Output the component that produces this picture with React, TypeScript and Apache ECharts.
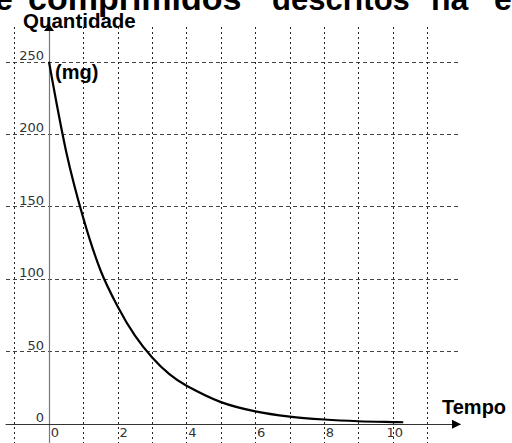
import React, { useEffect, useRef } from "react";
import * as echarts from "echarts";

// Data
const tempo = [0, 0.5, 1, 1.5, 2, 2.5, 3, 3.5, 4, 5, 6, 7, 8, 9, 10, 10.3];
const quantidade = [250, 188, 142, 106, 81, 61, 46, 34.5, 26.5, 15.2, 8.8, 5.2, 3.2, 2.0, 1.4, 1.3];

const xGridValues = [-1, 1, 2, 3, 4, 5, 6, 7, 8, 9, 10, 11];
const xLabelValues = [0, 2, 4, 6, 8, 10];
const yGridValues = [50, 100, 150, 200, 250];
const yLabelValues = [0, 50, 100, 150, 200, 250];

const X_MIN = -1.25;
const X_MAX = 11.95;
const Y_MIN = -13;
const Y_MAX = 274;

const titleWords = [
  { text: "e", x: -5 },
  { text: "comprimidos", x: 28, size: 34 },
  { text: "descritos", x: 272, size: 31 },
  { text: "na", x: 431, size: 32 },
  { text: "e", x: 494, size: 32 },
];

const boldFont = "Liberation Sans, Arial, Helvetica, sans-serif";
const labelFont = "DejaVu Sans, Verdana, sans-serif";

const W = 512;
const H = 443;
const GRID = { left: 6, right: 52, top: 27, bottom: 0 };

export default function App() {
  const ref = useRef<HTMLDivElement>(null);

  useEffect(() => {
    if (!ref.current) return;
    const chart = echarts.init(ref.current, null, { renderer: "svg" });
    const gridW = W - GRID.left - GRID.right;
    const gridH = H - GRID.top - GRID.bottom;
    // move axes (line + labels) onto the zero lines
    const yOffset = -((0 - X_MIN) / (X_MAX - X_MIN)) * gridW;
    const xOffset = -((0 - Y_MIN) / (Y_MAX - Y_MIN)) * gridH;

    const option: any = {
      animation: false,
      backgroundColor: "#ffffff",
      grid: { ...GRID, containLabel: false, outerBoundsMode: "none" },
      xAxis: {
        type: "value",
        min: X_MIN,
        max: X_MAX,
        position: "bottom",
        offset: xOffset,
        axisLine: { show: true, onZero: false, lineStyle: { color: "#333", width: 1 } },
        axisTick: { show: false, customValues: xGridValues },
        splitLine: { show: true, lineStyle: { color: "#222", width: 1, type: [2, 3] } },
        axisLabel: {
          customValues: xLabelValues,
          fontFamily: labelFont,
          fontSize: 13,
          color: "#333",
          margin: 2,
          align: "right",
          padding: [0, -10, 0, 0],
        },
      },
      yAxis: {
        type: "value",
        min: Y_MIN,
        max: Y_MAX,
        position: "left",
        offset: yOffset,
        axisLine: { show: true, onZero: false, lineStyle: { color: "#777", width: 1.2 } },
        axisTick: { show: false, customValues: yGridValues },
        splitLine: { show: true, lineStyle: { color: "#444", width: 1, type: [4, 3] } },
        axisLabel: {
          customValues: yLabelValues,
          fontFamily: labelFont,
          fontSize: 13,
          color: "#333",
          margin: 5,
          verticalAlign: "bottom",
        },
      },
      series: [
        {
          type: "line",
          data: tempo.map((t, i) => [t, quantidade[i]]),
          smooth: 0.3,
          showSymbol: false,
          lineStyle: { color: "#000", width: 2.2 },
          z: 5,
        },
      ],
    };
    chart.setOption(option);

    const [ax, top] = chart.convertToPixel({ gridIndex: 0 }, [0, Y_MAX]) as number[];
    const [right, ay] = chart.convertToPixel({ gridIndex: 0 }, [X_MAX, 0]) as number[];

    const graphics: any[] = [
      {
        type: "polygon",
        z: 100,
        shape: { points: [[ax, top - 3], [ax - 5, top + 4], [ax + 5, top + 4]] },
        style: { fill: "#000" },
      },
      {
        type: "polygon",
        z: 100,
        shape: { points: [[right + 1, ay], [right - 8, ay - 4.5], [right - 8, ay + 4.5]] },
        style: { fill: "#000" },
      },
      {
        type: "text",
        z: 100,
        x: 23,
        y: 20.5,
        style: { text: "Quantidade", font: `bold 20.5px ${boldFont}`, fill: "#000", verticalAlign: "middle", align: "left" },
      },
      {
        type: "text",
        z: 100,
        x: 55,
        y: 72,
        style: { text: "(mg)", font: `bold 20px ${boldFont}`, fill: "#000", verticalAlign: "middle", align: "left" },
      },
      {
        type: "text",
        z: 100,
        x: 442,
        y: 407.4,
        style: { text: "Tempo", font: `bold 20px ${boldFont}`, fill: "#000", verticalAlign: "middle", align: "left" },
      },
      ...titleWords.map((w) => {
        const size = w.size || 32;
        return {
          type: "text",
          z: 100,
          x: w.x,
          y: 9.8 - 0.3465 * size,
          style: { text: w.text, font: `bold ${size}px ${boldFont}`, fill: "#000", verticalAlign: "middle", align: "left" },
        };
      }),
    ];
    chart.setOption({ graphic: graphics });

    return () => {
      chart.dispose();
    };
  }, []);

  return (
    <div
      ref={ref}
      style={{ position: "fixed", left: 0, top: 0, width: W, height: H, background: "#fff" }}
    />
  );
}
